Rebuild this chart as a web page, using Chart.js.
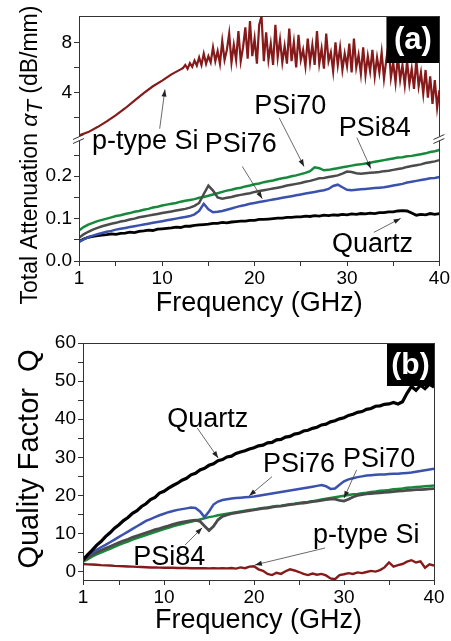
<!DOCTYPE html>
<html>
<head>
<meta charset="utf-8">
<script src="https://cdn.jsdelivr.net/npm/chart.js@4.4.1/dist/chart.umd.min.js"></script>
<style>
  html, body { margin: 0; padding: 0; background: #fff; }
  #wrap { position: relative; width: 451px; height: 641px; }
  #chartA { position: absolute; left: 0; top: 0; }
  #chartB { position: absolute; left: 0; top: 320px; }
</style>
</head>
<body>
<div id="wrap">
  <canvas id="chartA" width="451" height="320"></canvas>
  <canvas id="chartB" width="451" height="321"></canvas>
</div>
<script>
// frequency grid (GHz) shared by most series
const fGrid = [
  1, 1.5, 2, 2.5, 3, 3.5, 4, 4.5, 5, 5.5,
  6, 6.5, 7, 7.5, 8, 8.5, 9, 9.5, 10, 10.5,
  11, 11.5, 12, 12.5, 13, 13.5, 14, 14.5, 15, 15.5,
  16, 16.5, 17, 17.5, 18, 18.5, 19, 19.5, 20, 20.5,
  21, 21.5, 22, 22.5, 23, 23.5, 24, 24.5, 25, 25.5,
  26, 26.5, 27, 27.5, 28, 28.5, 29, 29.5, 30, 30.5,
  31, 31.5, 32, 32.5, 33, 33.5, 34, 34.5, 35, 35.5,
  36, 36.5, 37, 37.5, 38, 38.5, 39, 39.5, 40
]

// (a) total attenuation, dB/mm
const pSiFreqA = [
  1, 2, 3, 4, 5, 6, 7, 8, 9, 10, 11, 11.5, 12,
  12.25, 12.5, 12.75,
  13, 13.25, 13.5, 13.75, 14, 14.25, 14.5, 14.75,
  15, 15.25, 15.5, 15.75, 16, 16.25, 16.5, 16.75,
  17, 17.25, 17.5, 17.75, 18, 18.25, 18.5, 18.75,
  19, 19.25, 19.5, 19.75, 20, 20.25, 20.5, 20.75,
  21, 21.25, 21.5, 21.75, 22, 22.25, 22.5, 22.75,
  23, 23.25, 23.5, 23.75, 24, 24.25, 24.5, 24.75,
  25, 25.25, 25.5, 25.75, 26, 26.25, 26.5, 26.75,
  27, 27.25, 27.5, 27.75, 28, 28.25, 28.5, 28.75,
  29, 29.25, 29.5, 29.75, 30, 30.25, 30.5, 30.75,
  31, 31.25, 31.5, 31.75, 32, 32.25, 32.5, 32.75,
  33, 33.25, 33.5, 33.75, 34, 34.25, 34.5, 34.75,
  35, 35.25, 35.5, 35.75, 36, 36.25, 36.5, 36.75,
  37, 37.25, 37.5, 37.75, 38, 38.25, 38.5, 38.75,
  39, 39.25, 39.5, 39.75, 40
]
const pSiA = [
  0.58, 0.85, 1.25, 1.7, 2.2, 2.75, 3.35, 3.95, 4.5, 4.95, 5.45, 5.65, 5.85,
  5.95, 6.2, 5.9,
  6.35, 6.05, 6.55, 6.15, 6.8, 6.2, 7.1, 6.3,
  6.9, 6.4, 7.6, 6.5, 7.3, 6.3, 8.1, 6.6,
  7.4, 8.7, 6.4, 7.8, 6.6, 8.9, 6.5, 7.6,
  9.2, 6.7, 9.7, 6.9, 8.3, 6.3, 9.4, 10.1,
  6.5, 8.8, 6.6, 7.9, 6.2, 9.4, 6.8, 8.2,
  6.4, 7.7, 6.3, 9.1, 6.5, 8.0, 6.0, 8.6,
  6.6, 7.4, 6.1, 8.3, 6.4, 7.8, 6.2, 8.9,
  6.3, 7.5, 5.9, 8.7, 6.5, 7.2, 5.7, 8.0,
  6.2, 7.6, 5.8, 7.1, 6.1, 7.9, 5.6, 8.3,
  6.0, 7.0, 5.5, 7.6, 5.4, 6.9, 5.7, 7.4,
  5.3, 6.8, 5.6, 7.2, 5.1, 6.6, 7.9, 5.2,
  6.4, 4.8, 6.9, 5.0, 6.2, 4.6, 6.5, 4.7,
  5.9, 4.3, 6.6, 4.5, 5.6, 3.9, 5.8, 3.6,
  5.3, 3.1, 5.0, 2.8, 4.2
]
const psi70A = [
  0.072, 0.080, 0.086, 0.090, 0.094, 0.097, 0.100, 0.103, 0.106, 0.108,
  0.111, 0.113, 0.116, 0.118, 0.121, 0.123, 0.126, 0.128, 0.131, 0.133,
  0.135, 0.137, 0.140, 0.142, 0.144, 0.146, 0.149, 0.151, 0.154, 0.157,
  0.160, 0.163, 0.166, 0.168, 0.171, 0.173, 0.176, 0.178, 0.181, 0.183,
  0.186, 0.188, 0.190, 0.193, 0.195, 0.197, 0.200, 0.202, 0.205, 0.208,
  0.212, 0.221, 0.219, 0.214, 0.215, 0.217, 0.219, 0.221, 0.223, 0.225,
  0.227, 0.228, 0.230, 0.232, 0.234, 0.236, 0.238, 0.240, 0.242, 0.244,
  0.245, 0.247, 0.248, 0.250, 0.252, 0.254, 0.257, 0.259, 0.262
]
const psi84A = [
  0.055, 0.063, 0.069, 0.074, 0.078, 0.082, 0.085, 0.088, 0.090, 0.093,
  0.095, 0.098, 0.100, 0.103, 0.105, 0.107, 0.109, 0.111, 0.113, 0.115,
  0.117, 0.119, 0.121, 0.123, 0.126, 0.130, 0.137, 0.158, 0.178, 0.166,
  0.150, 0.147, 0.149, 0.151, 0.154, 0.156, 0.158, 0.160, 0.163, 0.165,
  0.167, 0.169, 0.171, 0.173, 0.175, 0.178, 0.180, 0.182, 0.184, 0.187,
  0.189, 0.192, 0.195, 0.196, 0.198, 0.200, 0.202, 0.206, 0.211, 0.210,
  0.207, 0.206, 0.207, 0.208, 0.209, 0.210, 0.212, 0.213, 0.215, 0.217,
  0.219, 0.222, 0.224, 0.226, 0.228, 0.231, 0.233, 0.235, 0.238
]
const psi76A = [
  0.045, 0.051, 0.056, 0.060, 0.063, 0.066, 0.069, 0.071, 0.074, 0.076,
  0.078, 0.080, 0.082, 0.084, 0.086, 0.088, 0.090, 0.092, 0.094, 0.096,
  0.098, 0.100, 0.102, 0.104, 0.106, 0.110, 0.118, 0.135, 0.122, 0.115,
  0.116, 0.118, 0.121, 0.124, 0.127, 0.130, 0.132, 0.135, 0.137, 0.139,
  0.141, 0.143, 0.145, 0.147, 0.149, 0.151, 0.153, 0.155, 0.157, 0.159,
  0.161, 0.163, 0.165, 0.167, 0.170, 0.177, 0.180, 0.174, 0.168, 0.167,
  0.168, 0.169, 0.170, 0.171, 0.172, 0.173, 0.174, 0.176, 0.178, 0.180,
  0.182, 0.185, 0.187, 0.189, 0.191, 0.193, 0.195, 0.196, 0.198
]
const quartzA = [
  0.046, 0.052, 0.056, 0.058, 0.060, 0.061, 0.062, 0.064, 0.063, 0.065,
  0.066, 0.068, 0.067, 0.070, 0.071, 0.073, 0.072, 0.075, 0.076, 0.077,
  0.078, 0.080, 0.079, 0.082, 0.082, 0.084, 0.085, 0.086, 0.087, 0.089,
  0.089, 0.091, 0.090, 0.092, 0.093, 0.094, 0.094, 0.096, 0.096, 0.098,
  0.098, 0.099, 0.100, 0.101, 0.101, 0.103, 0.103, 0.104, 0.104, 0.106,
  0.105, 0.107, 0.106, 0.108, 0.107, 0.109, 0.108, 0.110, 0.109, 0.111,
  0.110, 0.112, 0.111, 0.113, 0.112, 0.114, 0.114, 0.116, 0.116, 0.118,
  0.119, 0.118, 0.113, 0.108, 0.110, 0.109, 0.112, 0.110, 0.112
]

// (b) quality factor Q
const quartzB = [
  3.0, 4.4, 5.6, 6.9, 7.9, 9.2, 10.2, 11.4, 12.3, 13.4,
  14.2, 15.3, 16.0, 17.1, 17.8, 18.9, 19.5, 20.6, 21.1, 21.9,
  22.6, 23.2, 24.0, 24.5, 25.4, 25.8, 26.7, 27.1, 27.9, 28.3,
  29.1, 29.4, 30.1, 30.3, 31.0, 31.4, 31.7, 32.2, 32.5, 33.0,
  33.2, 33.8, 33.9, 34.6, 34.7, 35.3, 35.5, 36.1, 36.3, 36.9,
  37.1, 37.6, 37.9, 38.5, 38.7, 39.3, 39.6, 40.1, 40.4, 41.0,
  41.3, 41.8, 42.0, 42.6, 42.8, 43.4, 43.5, 43.9, 44.0, 44.4,
  44.0, 44.6, 46.8, 48.6, 47.6, 48.9, 48.0, 49.2, 48.4
]
const psi76B = [
  3.5, 4.3, 5.0, 5.7, 6.4, 7.0, 7.7, 8.4, 9.1, 9.8,
  10.5, 11.2, 11.9, 12.6, 13.3, 13.8, 14.3, 14.8, 15.2, 15.6,
  15.9, 16.2, 16.4, 16.6, 16.8, 16.7, 15.8, 14.3, 15.8, 17.6,
  18.4, 18.8, 19.0, 19.2, 19.3, 19.4, 19.5, 19.6, 19.7, 19.9,
  20.1, 20.3, 20.5, 20.7, 20.9, 21.1, 21.3, 21.5, 21.7, 21.9,
  22.1, 22.3, 22.5, 22.7, 22.4, 21.7, 21.8, 22.8, 23.7, 24.2,
  24.5, 24.8, 25.0, 25.2, 25.3, 25.4, 25.5, 25.5, 25.6, 25.7,
  25.7, 25.8, 25.9, 26.0, 26.2, 26.4, 26.6, 26.8, 27.0
]
const psi70B = [
  2.6, 3.2, 3.9, 4.5, 5.0, 5.5, 6.0, 6.5, 7.0, 7.5,
  7.9, 8.4, 8.8, 9.2, 9.6, 10.0, 10.4, 10.8, 11.2, 11.5,
  11.9, 12.2, 12.5, 12.8, 13.1, 13.4, 13.7, 14.0, 14.3, 14.5,
  14.8, 15.0, 15.2, 15.4, 15.6, 15.8, 16.0, 16.2, 16.3, 16.5,
  16.7, 16.8, 17.0, 17.2, 17.3, 17.5, 17.7, 17.8, 18.0, 18.2,
  18.3, 18.5, 18.7, 18.9, 19.1, 19.3, 19.5, 19.7, 19.9, 20.1,
  20.3, 20.4, 20.6, 20.7, 20.9, 21.0, 21.2, 21.3, 21.4, 21.6,
  21.7, 21.8, 22.0, 22.1, 22.2, 22.3, 22.4, 22.5, 22.6
]
const psi84B = [
  3.0, 3.7, 4.4, 5.0, 5.6, 6.1, 6.6, 7.1, 7.6, 8.1,
  8.5, 9.0, 9.4, 9.8, 10.2, 10.6, 11.0, 11.3, 11.7, 12.0,
  12.4, 12.7, 13.0, 13.2, 13.4, 13.5, 13.2, 12.0, 10.8, 11.9,
  13.6, 14.5, 14.9, 15.2, 15.4, 15.6, 15.8, 16.0, 16.2, 16.4,
  16.6, 16.7, 16.9, 17.1, 17.2, 17.4, 17.6, 17.7, 17.9, 18.0,
  18.2, 18.4, 18.5, 18.7, 18.9, 19.0, 19.0, 18.7, 18.5, 19.0,
  19.6, 20.0, 20.2, 20.4, 20.5, 20.6, 20.7, 20.8, 20.9, 21.0,
  21.1, 21.2, 21.3, 21.4, 21.5, 21.5, 21.6, 21.7, 21.8
]
const pSiB = [
  2.0, 1.9, 1.85, 1.8, 1.7, 1.65, 1.6, 1.5, 1.45, 1.4,
  1.35, 1.3, 1.25, 1.2, 1.15, 1.1, 1.1, 1.05, 1.0, 1.0,
  1.0, 0.95, 0.95, 0.95, 0.9, 0.9, 0.9, 0.9, 0.85, 0.9,
  0.85, 0.9, 0.85, 0.95, 0.8, 1.1, 0.9, 1.3, 1.4, 0.6,
  0.2, -0.6, -0.9, -0.3, -0.6, 0.1, 0.6, 0.3, -0.1, -0.6,
  -0.9, -0.5, -0.8, -0.6, -1.0, -1.8, -2.0, -0.9, -0.7, -0.4,
  -0.6, -0.2, -0.4, -0.1, 0.2, 0.0, 0.4, 1.1, 2.4, 1.3,
  1.7, 2.0, 2.6, 3.0, 2.4, 2.7, 1.0, 1.9, 1.6
]

// tick values
const xTickVals = [1, 5, 10, 15, 20, 25, 30, 35, 40]
const xTickLabels = [1, 10, 20, 30, 40]
const lowTickVals = [0, 0.05, 0.1, 0.15, 0.2, 0.25]
const upTickVals = [2, 4, 6, 8]
const upTickLabels = [4, 8]
const qTickVals = [0, 5, 10, 15, 20, 25, 30, 35, 40, 45, 50, 55, 60]

const FONT = "'Liberation Sans', Arial, Helvetica, sans-serif"
const colors = {
  pSi: "#861a1a",
  psi70: "#17893b",
  psi84: "#4b4b4b",
  psi76: "#3a52ad",
  quartz: "#000000",
}

// labels with arrows, [text, textX, textY, fromX, fromY, toX, toY, toAxis]
const notesA = [
  ["p-type Si", 2.4, 0.265, 9.73, 0.312, 10.3, 4.24, "yUp"],
  ["PSi76", 14.6, 0.258, 18.67, 0.223, 20.83, 0.147],
  ["PSi70", 19.97, 0.3475, 22.66, 0.338, 25.35, 0.223],
  ["PSi84", 29.1, 0.296, 31.07, 0.291, 32.57, 0.218],
  ["Quartz", 28.37, 0.0205, 32.9, 0.0675, 35.8, 0.1005],
]
const notesB = [
  ["Quartz", 10.36, 37.98, 13.69, 37.7, 16.02, 29.8],
  ["PSi76", 21.0, 26.2, 22.0, 24.9, 19.46, 19.9],
  ["PSi70", 29.9, 27.5, 31.4, 26.7, 30.0, 19.3],
  ["PSi84", 6.58, 1.76, 12.35, 7.0, 14.24, 11.5],
  ["p-type Si", 26.56, 7.53, 27.9, 6.2, 20.1, 1.76],
]

Chart.defaults.font.family = FONT
Chart.defaults.color = "#000"

function pts(xs, ys) {
  return xs.map((x, i) => ({ x: x, y: ys[i] }))
}

function line(data, color, yAxisID, width) {
  return {
    data: data,
    borderColor: color,
    borderWidth: width || 2.5,
    pointRadius: 0,
    fill: false,
    tension: 0,
    yAxisID: yAxisID,
  }
}

function xScale(h, titlePad) {
  return {
    type: "linear",
    min: 1,
    max: 40,
    afterBuildTicks: (s) => {
      s.ticks = xTickVals.map((v) => ({ value: v }))
    },
    afterFit: (s) => {
      s.height = h
    },
    ticks: {
      autoSkip: false,
      maxRotation: 0,
      padding: 1,
      font: { size: 19 },
      color: "#000",
      callback: (v) => (xTickLabels.includes(v) ? String(v) : ""),
    },
    grid: { drawOnChartArea: false, tickLength: 5, color: "#333" },
    border: { display: true, color: "#333", width: 1 },
    title: {
      display: true,
      text: "Frequency (GHz)",
      font: { size: 27 },
      color: "#000",
      padding: { top: 0, bottom: titlePad },
    },
  }
}

function yScale(w, min, max, vals, label, extra) {
  return Object.assign(
    {
      type: "linear",
      position: "left",
      min: min,
      max: max,
      afterBuildTicks: (s) => {
        s.ticks = vals.map((v) => ({ value: v }))
      },
      afterFit: (s) => {
        s.width = w
      },
      ticks: {
        autoSkip: false,
        padding: 2,
        font: { size: 19 },
        color: "#000",
        callback: label,
      },
      grid: { drawOnChartArea: false, tickLength: 5, color: "#333" },
      border: { display: true, color: "#333", width: 1 },
    },
    extra || {}
  )
}

function arrow(ctx, x1, y1, x2, y2) {
  const a = Math.atan2(y2 - y1, x2 - x1)
  ctx.beginPath()
  ctx.moveTo(x1, y1)
  ctx.lineTo(x2, y2)
  ctx.stroke()
  ctx.beginPath()
  ctx.moveTo(x2, y2)
  ctx.lineTo(x2 - 7 * Math.cos(a) + 2.5 * Math.sin(a), y2 - 7 * Math.sin(a) - 2.5 * Math.cos(a))
  ctx.lineTo(x2 - 7 * Math.cos(a) - 2.5 * Math.sin(a), y2 - 7 * Math.sin(a) + 2.5 * Math.cos(a))
  ctx.closePath()
  ctx.fill()
}

function notesPlugin(notes, defAxis) {
  return {
    id: "notes",
    afterDatasetsDraw(chart) {
      const ctx = chart.ctx
      const xs = chart.scales.x
      ctx.save()
      ctx.font = "27px " + FONT
      ctx.textBaseline = "alphabetic"
      ctx.textAlign = "left"
      notes.forEach((n) => {
        const ys = chart.scales[defAxis]
        const ye = chart.scales[n[7] || defAxis]
        ctx.fillStyle = "#000"
        ctx.fillText(n[0], xs.getPixelForValue(n[1]), ys.getPixelForValue(n[2]))
        ctx.strokeStyle = "#444"
        ctx.fillStyle = "#222"
        ctx.lineWidth = 0.8
        arrow(
          ctx,
          xs.getPixelForValue(n[3]),
          ys.getPixelForValue(n[4]),
          xs.getPixelForValue(n[5]),
          ye.getPixelForValue(n[6])
        )
      })
      ctx.restore()
    },
  }
}

function tagPlugin(text, w, h, size) {
  return {
    id: "tag",
    afterDatasetsDraw(chart) {
      const ctx = chart.ctx
      const a = chart.chartArea
      ctx.save()
      ctx.fillStyle = "#000"
      ctx.fillRect(a.right - w, a.top, w, h)
      ctx.fillStyle = "#fff"
      ctx.font = "bold " + size + "px " + FONT
      ctx.textAlign = "center"
      ctx.textBaseline = "middle"
      ctx.fillText(text, a.right - w / 2, a.top + h / 2 + 1)
      ctx.restore()
    },
  }
}

const framePlugin = {
  id: "frame",
  afterDraw(chart) {
    const ctx = chart.ctx
    const a = chart.chartArea
    ctx.save()
    ctx.strokeStyle = "#333"
    ctx.lineWidth = 1
    ctx.strokeRect(Math.round(a.left) + 0.5, Math.round(a.top) + 0.5, Math.round(a.right - a.left), Math.round(a.bottom - a.top))
    ctx.restore()
  },
}

const breakPlugin = {
  id: "axisBreak",
  afterDraw(chart) {
    const ctx = chart.ctx
    const a = chart.chartArea
    const yb = chart.scales.yUp.bottom
    ctx.save()
    ctx.fillStyle = "#fff"
    ;[a.left, a.right].forEach((x) => {
      ctx.fillRect(x - 2, yb - 2, 4, 4)
      ctx.strokeStyle = "#333"
      ctx.lineWidth = 1
      ctx.beginPath()
      ctx.moveTo(x - 6, yb + 1)
      ctx.lineTo(x + 5, yb - 4)
      ctx.moveTo(x - 6, yb + 5)
      ctx.lineTo(x + 5, yb)
      ctx.stroke()
    })
    ctx.restore()
  },
}

// rotated y titles with mixed fonts
function yTitlePlugin(parts, cx, cy) {
  return {
    id: "yTitle",
    afterDraw(chart) {
      const ctx = chart.ctx
      ctx.save()
      ctx.translate(cx, cy)
      ctx.rotate(-Math.PI / 2)
      ctx.fillStyle = "#000"
      ctx.textBaseline = "alphabetic"
      ctx.textAlign = "left"
      let total = 0
      parts.forEach((p) => {
        ctx.font = p[1] + FONT
        total += ctx.measureText(p[0]).width
      })
      let x = -total / 2
      parts.forEach((p) => {
        ctx.font = p[1] + FONT
        ctx.fillText(p[0], x, p[2] || 0)
        x += ctx.measureText(p[0]).width
      })
      ctx.restore()
    },
  }
}

const noLegend = { legend: { display: false }, tooltip: { enabled: false } }

// panel (a)
new Chart(document.getElementById("chartA").getContext("2d"), {
  type: "line",
  data: {
    datasets: [
      line(pts(fGrid, psi84A), colors.psi84, "yLow"),
      line(pts(fGrid, psi76A), colors.psi76, "yLow"),
      line(pts(fGrid, psi70A), colors.psi70, "yLow"),
      line(pts(fGrid, quartzA), colors.quartz, "yLow", 2.8),
      line(pts(pSiFreqA, pSiA), colors.pSi, "yUp", 2.2),
    ],
  },
  options: {
    responsive: false,
    animation: false,
    layout: { padding: { left: 0, top: 16, right: 10, bottom: 0 } },
    plugins: noLegend,
    scales: {
      x: xScale(59, 0),
      yLow: yScale(79, 0, 0.289, lowTickVals, (v) =>
        Math.abs(v * 10 - Math.round(v * 10)) < 1e-6 ? v.toFixed(1) : "",
        { stack: "a", stackWeight: 1 }
      ),
      yUp: yScale(79, 0.34, 10.1, upTickVals, (v) =>
        upTickLabels.includes(v) ? String(v) : "",
        { stack: "a", stackWeight: 1 }
      ),
    },
  },
  plugins: [
    framePlugin,
    breakPlugin,
    notesPlugin(notesA, "yLow"),
    tagPlugin("(a)", 53, 47, 31),
    yTitlePlugin(
      [
        ["Total Attenuation ", "23px "],
        ["\u03b1", "italic 23px "],
        ["T", "italic 22px ", 5],
        [" (dB/mm)", "23px "],
      ],
      37,
      155
    ),
  ],
})

// panel (b)
new Chart(document.getElementById("chartB").getContext("2d"), {
  type: "line",
  data: {
    datasets: [
      line(pts(fGrid, quartzB), colors.quartz, "y", 3.2),
      line(pts(fGrid, psi76B), colors.psi76, "y"),
      line(pts(fGrid, psi84B), colors.psi84, "y", 2.8),
      line(pts(fGrid, psi70B), colors.psi70, "y"),
      line(pts(fGrid, pSiB), colors.pSi, "y", 2.4),
    ],
  },
  options: {
    responsive: false,
    animation: false,
    layout: { padding: { left: 0, top: 23, right: 17, bottom: 0 } },
    plugins: noLegend,
    scales: {
      x: xScale(61, 4),
      y: yScale(83, -2.2, 60, qTickVals, (v) => (v % 10 === 0 ? String(v) : "")),
    },
  },
  plugins: [
    framePlugin,
    notesPlugin(notesB, "y"),
    tagPlugin("(b)", 47, 43, 30),
    yTitlePlugin([["Quality Factor  Q", "29px "]], 38, 139),
  ],
})
</script>
</body>
</html>
